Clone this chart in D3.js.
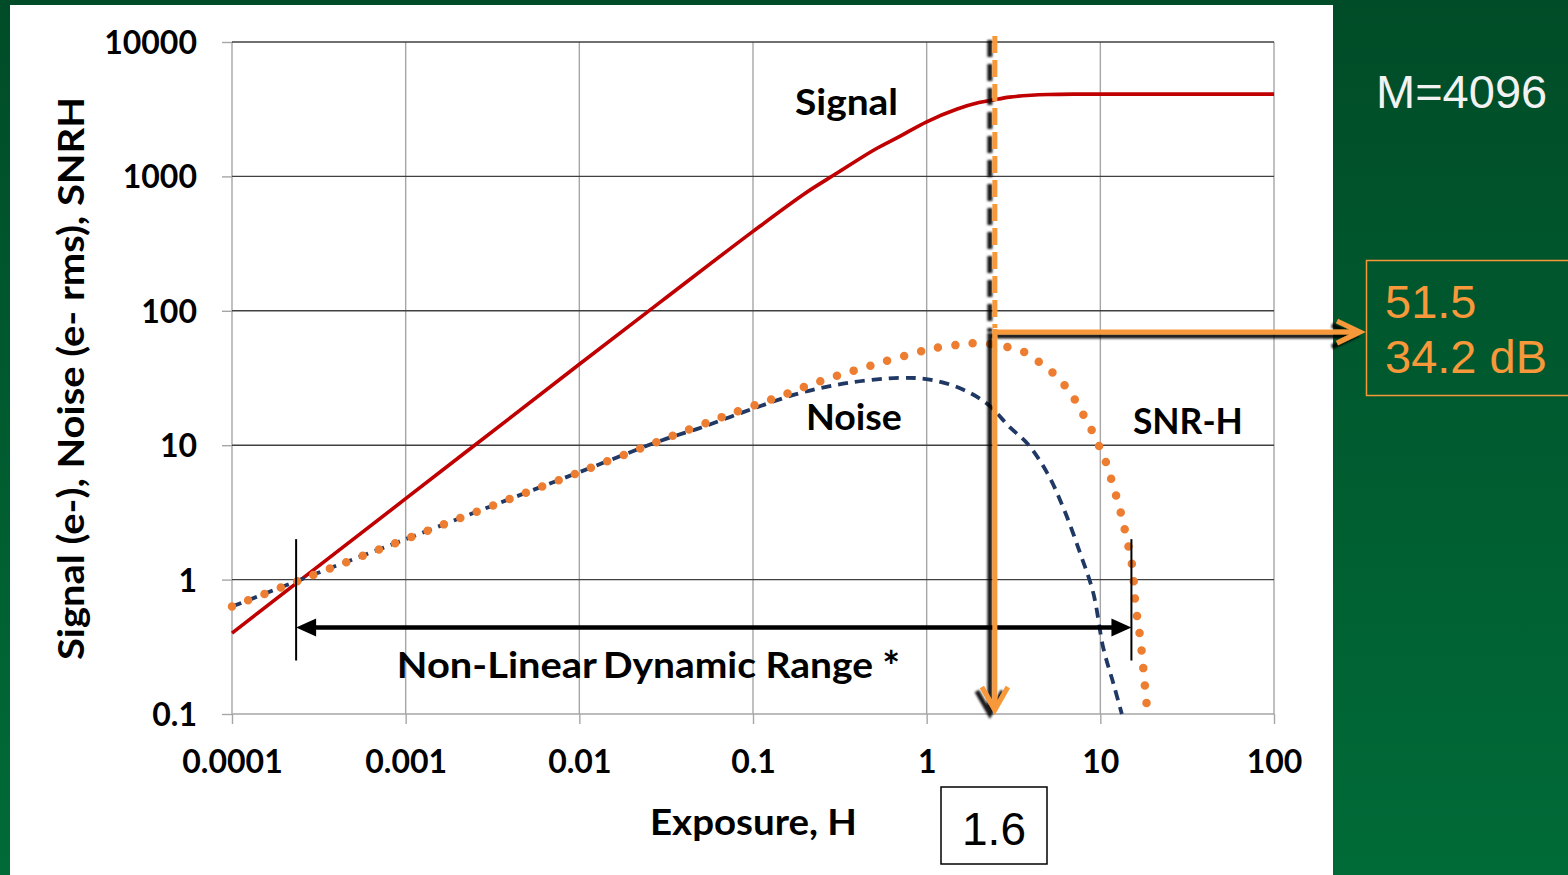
<!DOCTYPE html>
<html>
<head>
<meta charset="utf-8">
<script src="https://cdn.jsdelivr.net/npm/d3@7"></script>
<style>
  body { margin: 0; padding: 0; overflow: hidden; }
  svg { display: block; }
  .tick text { font-family: Lato, "Open Sans", sans-serif; font-weight: bold; fill: #000; }
</style>
</head>
<body>
<div id="chart"></div>
<script>
// Exposure values (H) and curves
var signal_h = [0.0001, 0.001, 0.01, 0.03, 0.1, 0.2, 0.3, 0.5, 0.7, 1, 1.5, 2, 2.4, 3, 4, 5, 7, 10, 100];
var signal_v = [0.4, 4.0, 40, 119, 390, 750, 1045, 1580, 1985, 2550, 3170, 3540, 3700, 3890, 4015, 4065, 4092, 4096, 4096];

var noise_h = [0.0001, 0.0003, 0.001, 0.003, 0.01, 0.03, 0.05, 0.1, 0.19, 0.36, 0.7, 1.04, 1.57, 2.22, 3.03, 3.8, 4.95, 6.12, 7.67, 9.12, 10.4, 11.9, 13.3];
var noise_v = [0.63, 1.1, 2.0, 3.46, 6.3, 10.9, 13.5, 18.7, 24.6, 29.2, 31.7, 30.8, 26.4, 20.4, 13.5, 10.3, 6.2, 3.43, 1.56, 0.79, 0.31, 0.168, 0.1];

var snr_h = [0.0001, 0.001, 0.01, 0.058, 0.09, 0.142, 0.222, 0.349, 0.547, 0.871, 1.08, 1.39, 1.71, 2.18, 2.78, 3.56, 4.33, 5.22, 6.12, 7.08, 7.98, 8.87, 9.86, 10.8, 11.6, 12.4, 13.2, 13.9, 15.3, 15.9, 17.0, 18.2, 18.7];
var snr_v = [0.63, 2.0, 6.3, 15.2, 18.7, 23, 28.7, 34.7, 41.2, 48.9, 52.6, 55, 57, 57, 54.5, 50, 42.6, 35.3, 28.7, 22.2, 16.9, 13.1, 9.8, 7.4, 5.5, 4.1, 3.05, 2.28, 1.23, 0.67, 0.36, 0.145, 0.1];

var x_ticks = [0.0001, 0.001, 0.01, 0.1, 1, 10, 100];
var x_tick_labels = ["0.0001", "0.001", "0.01", "0.1", "1", "10", "100"];
var y_ticks = [0.1, 1, 10, 100, 1000, 10000];
var y_tick_labels = ["0.1", "1", "10", "100", "1000", "10000"];

// annotation values
var marker_exposure = 2.47;
var marker_snr = 69.5;
var range_limits = [0.000234, 15.1];
var range_level = 0.44;
var range_bar = [0.25, 2.0];

var width = 1568, height = 875;
var plot_left = 232, plot_right = 1274, plot_top = 42, plot_bottom = 714;
var orange = "#f7983a";
var label_font = "Lato, 'Open Sans', sans-serif";

var svg = d3.select("#chart").append("svg")
    .attr("width", width)
    .attr("height", height);

var defs = svg.append("defs");
var grad = defs.append("linearGradient")
    .attr("id", "bg_grad")
    .attr("x1", 0).attr("y1", 0).attr("x2", 0).attr("y2", 1);
grad.append("stop").attr("offset", "0%").attr("stop-color", "#004c28");
grad.append("stop").attr("offset", "100%").attr("stop-color", "#006b37");

var shadow = defs.append("filter")
    .attr("id", "shadow")
    .attr("x", "-20%").attr("y", "-20%").attr("width", "140%").attr("height", "140%");
shadow.append("feDropShadow")
    .attr("dx", -5).attr("dy", 4)
    .attr("stdDeviation", 1.3)
    .attr("flood-color", "#000")
    .attr("flood-opacity", 0.9);

// background
svg.append("rect").attr("width", width).attr("height", height).attr("fill", "url(#bg_grad)");
svg.append("rect")
    .attr("x", 10).attr("y", 5)
    .attr("width", 1323).attr("height", height - 5)
    .attr("fill", "#fff");

var x = d3.scaleLog().domain([0.0001, 100]).range([plot_left, plot_right]);
var y = d3.scaleLog().domain([0.1, 10000]).range([plot_bottom, plot_top]);

// grid
var grid = svg.append("g");
grid.selectAll(".vgrid")
    .data(x_ticks)
  .enter().append("line")
    .attr("x1", function(d) { return x(d); })
    .attr("x2", function(d) { return x(d); })
    .attr("y1", plot_top)
    .attr("y2", plot_bottom)
    .attr("stroke", "#a6a6a6")
    .attr("stroke-width", 1.4);
grid.selectAll(".hgrid")
    .data(y_ticks)
  .enter().append("line")
    .attr("x1", plot_left)
    .attr("x2", plot_right)
    .attr("y1", function(d) { return y(d); })
    .attr("y2", function(d) { return y(d); })
    .attr("stroke", function(d) { return d === 0.1 ? "#a6a6a6" : "#404040"; })
    .attr("stroke-width", 1.4);

// axes
var x_axis = svg.append("g")
    .attr("transform", "translate(0," + plot_bottom + ")")
    .call(d3.axisBottom(x).tickValues(x_ticks)
      .tickFormat(function(d, i) { return x_tick_labels[i]; })
      .tickSize(10));
x_axis.select(".domain").remove();
x_axis.selectAll(".tick line").attr("stroke", "#a6a6a6").attr("stroke-width", 1.4);
x_axis.selectAll(".tick text")
    .attr("y", 59).attr("dy", null)
    .style("font-size", "32px");

var y_axis = svg.append("g")
    .attr("transform", "translate(" + plot_left + ",0)")
    .call(d3.axisLeft(y).tickValues(y_ticks)
      .tickFormat(function(d, i) { return y_tick_labels[i]; })
      .tickSize(10));
y_axis.select(".domain").remove();
y_axis.selectAll(".tick line").attr("stroke", "#a6a6a6").attr("stroke-width", 1.4);
y_axis.selectAll(".tick text")
    .attr("x", -35).attr("dy", "0.36em")
    .style("font-size", "32px");

// curves
var line = d3.line()
    .x(function(d) { return x(d[0]); })
    .y(function(d) { return y(d[1]); })
    .curve(d3.curveCatmullRom.alpha(0.5));

svg.append("path")
    .datum(d3.zip(signal_h, signal_v))
    .attr("d", line)
    .attr("fill", "none")
    .attr("stroke", "#c00000")
    .attr("stroke-width", 3.6);

svg.append("path")
    .datum(d3.zip(noise_h, noise_v))
    .attr("d", line)
    .attr("fill", "none")
    .attr("stroke", "#1f3864")
    .attr("stroke-width", 3.8)
    .attr("stroke-dasharray", "10 7");

svg.append("path")
    .datum(d3.zip(snr_h, snr_v))
    .attr("d", line)
    .attr("fill", "none")
    .attr("stroke", "#ed7d31")
    .attr("stroke-width", 8.5)
    .attr("stroke-linecap", "round")
    .attr("stroke-dasharray", "0 17.5");

// curve labels (len = measured width of the label)
var labels = [
  {text: "Signal", h: 0.1746, v: 2864, len: 103},
  {text: "Noise", h: 0.2017, v: 13.0, len: 96},
  {text: "SNR-H", h: 15.4, v: 12.1, len: 110},
  {text: "Non-Linear", h: 0.00089, v: 0.185, len: 200},
  {text: "Dynamic Range", h: 0.01368, v: 0.185, len: 270}
];
svg.selectAll(".curve_label")
    .data(labels)
  .enter().append("text")
    .attr("class", "curve_label")
    .attr("x", function(d) { return x(d.h); })
    .attr("y", function(d) { return y(d.v); })
    .attr("font-family", label_font)
    .attr("font-weight", "bold")
    .attr("font-size", 36)
    .attr("textLength", function(d) { return d.len; })
    .attr("lengthAdjust", "spacingAndGlyphs")
    .text(function(d) { return d.text; });
svg.append("text")
    .attr("x", x(0.555))
    .attr("y", y(0.174))
    .attr("font-family", label_font)
    .attr("font-weight", "bold")
    .attr("font-size", 42)
    .text("*");

// axis titles
svg.append("text")
    .attr("x", 650)
    .attr("y", 835)
    .attr("font-family", label_font)
    .attr("font-weight", "bold")
    .attr("font-size", 36)
    .attr("textLength", 207)
    .attr("lengthAdjust", "spacingAndGlyphs")
    .text("Exposure, H");
svg.append("text")
    .attr("transform", "translate(84,660) rotate(-90)")
    .attr("font-family", label_font)
    .attr("font-weight", "bold")
    .attr("font-size", 36)
    .attr("textLength", 563)
    .attr("lengthAdjust", "spacingAndGlyphs")
    .text("Signal (e-), Noise (e- rms), SNRH");

// dynamic range arrow
var range_g = svg.append("g");
range_limits.forEach(function(h) {
  range_g.append("line")
      .attr("x1", x(h)).attr("x2", x(h))
      .attr("y1", y(range_bar[1])).attr("y2", y(range_bar[0]))
      .attr("stroke", "#000").attr("stroke-width", 2);
});
var ay = y(range_level), ax0 = x(range_limits[0]), ax1 = x(range_limits[1]);
range_g.append("line")
    .attr("x1", ax0 + 16).attr("x2", ax1 - 16)
    .attr("y1", ay).attr("y2", ay)
    .attr("stroke", "#000").attr("stroke-width", 4.5);
range_g.append("path")
    .attr("d", "M" + ax0 + "," + ay + " l20,-9 l0,18 z")
    .attr("fill", "#000");
range_g.append("path")
    .attr("d", "M" + ax1 + "," + ay + " l-20,-9 l0,18 z")
    .attr("fill", "#000");

// exposure marker with shadowed orange arrows
var mx = x(marker_exposure), my = y(marker_snr);
var marker_g = svg.append("g").attr("filter", "url(#shadow)");
marker_g.append("line")
    .attr("x1", mx).attr("x2", mx)
    .attr("y1", plot_top - 6).attr("y2", my - 4)
    .attr("stroke", orange).attr("stroke-width", 5)
    .attr("stroke-dasharray", "17 7");
marker_g.append("path")
    .attr("d", "M" + mx + "," + (my - 3) + " L" + mx + "," + (plot_bottom - 5) +
               " M" + (mx - 13) + "," + (plot_bottom - 27) + " L" + mx + "," + (plot_bottom - 4) +
               " L" + (mx + 13) + "," + (plot_bottom - 27))
    .attr("fill", "none")
    .attr("stroke", orange).attr("stroke-width", 5)
    .attr("stroke-linejoin", "miter");
var arrow_end = 1360;
marker_g.append("path")
    .attr("d", "M" + (mx - 2) + "," + my + " L" + (arrow_end - 3) + "," + my +
               " M" + (arrow_end - 23) + "," + (my - 11) + " L" + arrow_end + "," + my +
               " L" + (arrow_end - 23) + "," + (my + 11))
    .attr("fill", "none")
    .attr("stroke", orange).attr("stroke-width", 5);

// value boxes
svg.append("rect")
    .attr("x", 941).attr("y", 787)
    .attr("width", 106).attr("height", 77)
    .attr("fill", "#fff")
    .attr("stroke", "#000").attr("stroke-width", 1.5);
svg.append("text")
    .attr("x", 994).attr("y", 845)
    .attr("text-anchor", "middle")
    .attr("font-family", "Liberation Sans, Arial, sans-serif")
    .attr("font-size", 46)
    .text("1.6");

svg.append("text")
    .attr("x", 1376).attr("y", 108)
    .attr("font-family", "Liberation Sans, Arial, sans-serif")
    .attr("font-size", 47)
    .attr("fill", "#f2f2f2")
    .text("M=4096");

svg.append("rect")
    .attr("x", 1366.5).attr("y", 260.5)
    .attr("width", 220).attr("height", 135)
    .attr("fill", "none")
    .attr("stroke", orange).attr("stroke-width", 1.5);
svg.append("text")
    .attr("x", 1385).attr("y", 318)
    .attr("font-family", "Liberation Sans, Arial, sans-serif")
    .attr("font-size", 47)
    .attr("fill", orange)
    .text("51.5");
svg.append("text")
    .attr("x", 1385).attr("y", 373)
    .attr("font-family", "Liberation Sans, Arial, sans-serif")
    .attr("font-size", 47)
    .attr("fill", orange)
    .text("34.2 dB");
</script>
</body>
</html>
